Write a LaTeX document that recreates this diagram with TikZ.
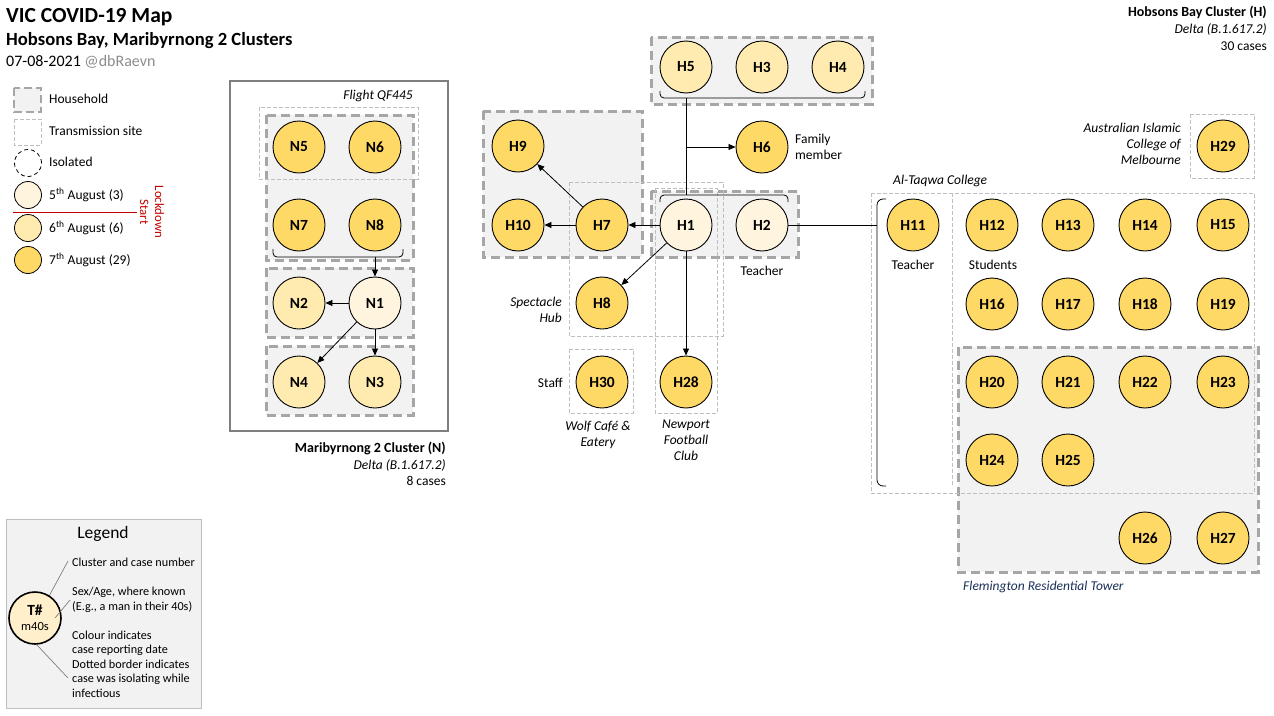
\documentclass[tikz,border=0pt]{standalone}
\usepackage{fontspec}
\setmainfont{Carlito}
\usetikzlibrary{arrows.meta}
\definecolor{dfive}{HTML}{FFF4DE}
\definecolor{dsix}{HTML}{FFEBAF}
\definecolor{dseven}{HTML}{FFD966}
\definecolor{hhfill}{HTML}{F2F2F2}
\definecolor{hhline}{HTML}{A6A6A6}
\definecolor{tsline}{HTML}{BFBFBF}
\definecolor{frameg}{HTML}{7F7F7F}
\definecolor{lockred}{HTML}{C00000}
\definecolor{navy}{HTML}{1A2F55}
\definecolor{handle}{HTML}{8C8C8C}
\begin{document}
\begin{tikzpicture}[x=1pt,y=-1pt,
 case/.style={circle,draw=black,line width=0.9pt,minimum size=52pt,inner sep=0pt,font=\fontsize{15.5}{15.5}\selectfont\bfseries},
 cfive/.style={case,fill=dfive}, csix/.style={case,fill=dsix}, cseven/.style={case,fill=dseven},
 household/.style={fill=hhfill,draw=hhline,line width=3pt,dash pattern=on 9pt off 5pt},
 tsite/.style={draw=tsline,line width=0.8pt,dash pattern=on 4pt off 2pt},
 arr/.style={-{Triangle[length=7pt,width=6pt]},line width=0.8pt},
 conn/.style={line width=0.8pt},
 brk/.style={line width=0.8pt,rounded corners=4pt},
 lbl/.style={font=\fontsize{13.5}{16}\selectfont,inner sep=0pt},
 ilbl/.style={font=\fontsize{13.5}{16}\selectfont\itshape,inner sep=0pt},
 blbl/.style={font=\fontsize{14}{17}\selectfont\bfseries,inner sep=0pt},
 small/.style={font=\fontsize{12.2}{14.5}\selectfont,inner sep=0pt,anchor=west,align=left},
 legc/.style={circle,draw=black,line width=0.8pt,minimum size=27pt,inner sep=0pt},
]
\useasboundingbox (0,0) rectangle (1274,715);

% ---------- Title ----------
\node[anchor=west,inner sep=0pt,font=\fontsize{21.5}{24}\selectfont\bfseries] (title) at (6,17) {VIC COVID-19 Map};
\node[anchor=west,inner sep=0pt,font=\fontsize{18.6}{21}\selectfont\bfseries] (subtitle) at (6,41) {Hobsons Bay, Maribyrnong 2 Clusters};
\node[anchor=west,inner sep=0pt,font=\fontsize{16}{18}\selectfont] (date) at (6,62) {07-08-2021 \textcolor{handle}{@dbRaevn}};

% ---------- Top-left legend ----------
\draw[household,line width=2.5pt,dash pattern=on 8pt off 4pt] (14,88) rectangle (41,112);
\node[lbl,anchor=west] (lhh) at (49,99) {Household};
\draw[tsite] (14,119) rectangle (41,145);
\node[lbl,anchor=west] (lts) at (49,131) {Transmission site};
\node[legc,dash pattern=on 4pt off 3pt] (liso) at (28,163) {};
\node[lbl,anchor=west] (liso-t) at (49,162) {Isolated};
\node[legc,fill=dfive] (l5) at (28,195) {};
\node[lbl,anchor=west] (l5t) at (49,195) {5\textsuperscript{th} August (3)};
\node[legc,fill=dsix] (l6) at (28,228) {};
\node[lbl,anchor=west] (l6t) at (49,228) {6\textsuperscript{th} August (6)};
\node[legc,fill=dseven] (l7) at (28,260) {};
\node[lbl,anchor=west] (l7t) at (49,260) {7\textsuperscript{th} August (29)};
\coordinate (lkA) at (13,212);
\coordinate (lkB) at (137,212);
\draw[lockred,line width=1pt] (lkA) -- (lkB);
\node[rotate=-90,align=center,text=lockred,inner sep=0pt,font=\fontsize{12.8}{15}\selectfont] (lock) at (152,212) {Lockdown\\Start};

% ---------- Maribyrnong cluster (N) ----------
\draw[frameg,line width=2.6pt] (230,81) rectangle (448,431);
\draw[household] (266,115) rectangle (413,260);
\draw[household] (266,268) rectangle (413,337);
\draw[household] (266,346) rectangle (413,415);
\draw[tsite] (259,107) rectangle (418,179);
\node[ilbl,anchor=east] (flight) at (413,96) {Flight QF445};

\draw[brk] (273,249) -- (273,257) -- (403,257) -- (403,249);
\coordinate (nbr) at (375,257);

\node[cseven] (N5) at (299,147) {N5};
\node[cseven] (N6) at (375,147) {N6};
\node[cseven] (N7) at (299,225) {N7};
\node[cseven] (N8) at (375,225) {N8};
\node[csix]   (N2) at (299,303) {N2};
\node[cfive]  (N1) at (375,303) {N1};
\node[csix]   (N4) at (299,382) {N4};
\node[csix]   (N3) at (375,382) {N3};

\draw[arr] (nbr) -- (N1);
\draw[arr] (N1) -- (N2);
\draw[arr] (N1) -- (N3);
\draw[arr] (N1) -- (N4);

\node[blbl,anchor=east] (ncl) at (446,448) {Maribyrnong 2 Cluster (N)};
\node[ilbl,anchor=east] (ndelta) at (446,465) {Delta (B.1.617.2)};
\node[lbl,anchor=east] (ncases) at (446,481) {8 cases};

% ---------- Hobsons Bay cluster (H) ----------
\draw[household] (651,37) rectangle (872,104);
\draw[household] (483,111) rectangle (642,257);
\draw[household] (651,191) rectangle (798,257);
\draw[household] (958,347) rectangle (1258,572);

\draw[tsite] (569,182) rectangle (723,336);
\draw[tsite] (655,188) rectangle (717,413);
\draw[tsite] (569,349) rectangle (633,413);
\draw[tsite] (1190,114) rectangle (1254,178);
\draw[tsite] (871,193) rectangle (1254,493);
\draw[tsite] (952,193) -- (952,487);

% brackets
\draw[brk] (660,91) -- (660,98) -- (865,98) -- (865,91);
\draw[brk] (660,202) -- (660,195) -- (788,195) -- (788,202);
\draw[line width=0.8pt,rounded corners=6pt] (886,199) -- (877,199) -- (877,486) -- (886,486);
\coordinate (tbr) at (686,98);
\coordinate (hbr) at (686,195);
\coordinate (fam) at (686,147);
\coordinate (abr) at (877,225);

\node[csix] (H5) at (686,67) {H5};
\node[csix] (H3) at (762,67) {H3};
\node[csix] (H4) at (838,67) {H4};
\node[cseven] (H6) at (762,147) {H6};
\node[cseven] (H9) at (518,146) {H9};
\node[cseven] (H10) at (518,225) {H10};
\node[cseven] (H7) at (602,225) {H7};
\node[cfive] (H1) at (686,225) {H1};
\node[cfive] (H2) at (762,225) {H2};
\node[cseven] (H8) at (602,303) {H8};
\node[cseven] (H30) at (602,382) {H30};
\node[cseven] (H28) at (686,382) {H28};
\node[cseven] (H29) at (1223,146) {H29};

\node[cseven] (H11) at (913,225) {H11};
\node[cseven] (H12) at (992,225) {H12};
\node[cseven] (H13) at (1068,225) {H13};
\node[cseven] (H14) at (1145,225) {H14};
\node[cseven] (H15) at (1223,225) {H15};
\node[cseven] (H16) at (992,304) {H16};
\node[cseven] (H17) at (1068,304) {H17};
\node[cseven] (H18) at (1145,304) {H18};
\node[cseven] (H19) at (1223,304) {H19};
\node[cseven] (H20) at (992,382) {H20};
\node[cseven] (H21) at (1068,382) {H21};
\node[cseven] (H22) at (1145,382) {H22};
\node[cseven] (H23) at (1223,382) {H23};
\node[cseven] (H24) at (992,460) {H24};
\node[cseven] (H25) at (1068,460) {H25};
\node[cseven] (H26) at (1145,538) {H26};
\node[cseven] (H27) at (1223,538) {H27};

\draw[conn] (tbr) -- (hbr);
\draw[arr] (fam) -- (H6);
\draw[arr] (H1) -- (H7);
\draw[arr] (H7) -- (H10);
\draw[arr] (H7) -- (H9);
\draw[arr] (H1) -- (H8);
\draw[arr] (H1) -- (H28);
\draw[conn] (H2) -- (abr);

% labels
\node[lbl,anchor=west,align=left] (famt) at (795,147) {Family\\member};
\node[lbl] (teach1) at (762,271) {Teacher};
\node[ilbl,anchor=east,align=right] (spec) at (562,310) {Spectacle\\Hub};
\node[lbl,anchor=east] (staff) at (563,383) {Staff};
\node[ilbl,align=center] (wolf) at (598,435) {Wolf Café \&\\Eatery};
\node[ilbl,align=center] (newp) at (686,440) {Newport\\Football\\Club};
\node[ilbl,anchor=east,align=right] (aicm) at (1181,144) {Australian Islamic\\College of\\Melbourne};
\node[ilbl,anchor=west] (altq) at (893,181) {Al-Taqwa College};
\node[lbl] (teach2) at (913,265) {Teacher};
\node[lbl] (stud) at (993,265) {Students};
\node[ilbl,anchor=west,text=navy] (flem) at (963,587) {Flemington Residential Tower};

\node[blbl,anchor=east] (hcl) at (1267,12) {Hobsons Bay Cluster (H)};
\node[ilbl,anchor=east] (hdelta) at (1267,29) {Delta (B.1.617.2)};
\node[lbl,anchor=east] (hcases) at (1267,46) {30 cases};

% ---------- Bottom legend ----------
\draw[draw=tsline,fill=hhfill,line width=0.8pt] (6,519) rectangle (201,708);
\node[inner sep=0pt,font=\fontsize{17.5}{20}\selectfont] (legt) at (103,534) {Legend};
\coordinate (g1a) at (47,600);
\coordinate (g1b) at (68,561);
\coordinate (g2a) at (55,618);
\coordinate (g2b) at (70,600);
\coordinate (g3a) at (37,645);
\coordinate (g3b) at (68,678);
\draw[frameg,line width=0.7pt] (g1a) -- (g1b);
\draw[frameg,line width=0.7pt] (g3a) -- (g3b);
\node[circle,draw=black,line width=1.6pt,fill=dfive!60!dsix,minimum size=52pt,inner sep=0pt] (T) at (35,618) {};
\draw[frameg,line width=0.7pt] (g2a) -- (g2b);
\node[inner sep=0pt,font=\fontsize{15.5}{15.5}\selectfont\bfseries] (Tn) at (35,610) {T\#};
\node[inner sep=0pt,font=\fontsize{12.5}{12.5}\selectfont] (Ta) at (35,626) {m40s};
\node[small] (lg1) at (72,562) {Cluster and case number};
\node[small] (lg2) at (72,600) {Sex/Age, where known\\(E.g., a man in their 40s)};
\node[small] (lg3) at (72,664) {Colour indicates\\case reporting date\\Dotted border indicates\\case was isolating while\\infectious};
\end{tikzpicture}
\end{document}
